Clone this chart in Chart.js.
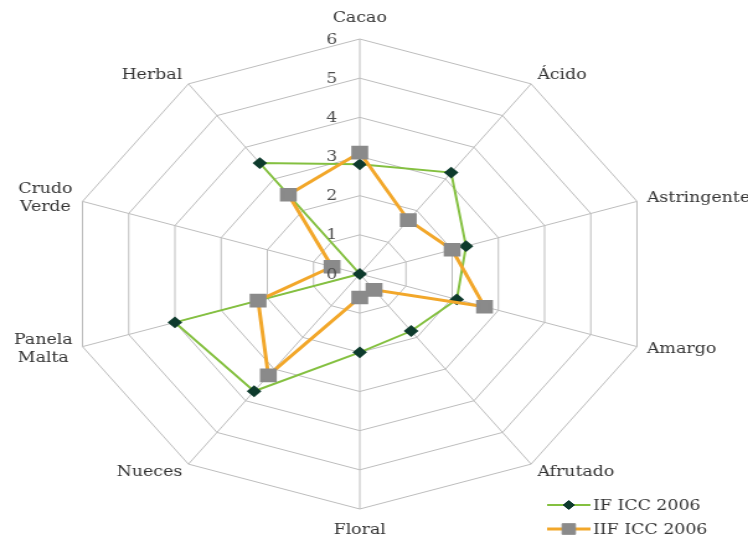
<!DOCTYPE html>
<html>
<head>
<meta charset="utf-8">
<script src="https://cdn.jsdelivr.net/npm/chart.js@4/dist/chart.umd.min.js"></script>
<style>
  html, body { margin: 0; padding: 0; background: #fff; }
  #frame { width: 748px; height: 543px; overflow: hidden; }
  /* the source picture is stretched sideways, so the canvas is too */
  #wrap { width: 603px; height: 543px; transform: scaleX(1.2405); transform-origin: 0 0; }
</style>
</head>
<body>
<div id="frame"><div id="wrap"><canvas id="radar" width="603" height="543"></canvas></div></div>
<script>
const categories = ['Cacao', 'Ácido', 'Astringente', 'Amargo', 'Afrutado', 'Floral', 'Nueces', ['Panela', 'Malta'], ['Crudo', 'Verde'], 'Herbal'];
const ifIcc2006 = [2.8, 3.2, 2.3, 2.1, 1.8, 2.0, 3.7, 4.0, 0, 3.5];
const iifIcc2006 = [3.1, 1.7, 2.0, 2.7, 0.5, 0.6, 3.2, 2.2, 0.6, 2.5];
const seriesNames = ['IF ICC 2006', 'IIF ICC 2006'];
const tickValues = [0, 1, 2, 3, 4, 5, 6];

const labelFont = '14px "DejaVu Serif"';
const textColor = '#333333';

// point labels, tick numbers and the legend are drawn here so they sit like the Excel original
const textPlugin = {
    id: 'textPlugin',
    afterDraw(chart) {
        const ctx = chart.ctx;
        const s = chart.scales.r;
        ctx.save();
        ctx.font = labelFont;
        ctx.fillStyle = textColor;
        ctx.textBaseline = 'middle';

        // axis names
        const n = chart.data.labels.length;
        chart.data.labels.forEach((label, i) => {
            const a = (i / n) * Math.PI * 2;
            const sin = Math.sin(a), cos = Math.cos(a);
            const p = s.getPointPosition(i, s.drawingArea);
            const lines = Array.isArray(label) ? label : [label];
            const lh = 18;
            let x = p.x, y;
            if (Math.abs(sin) < 0.01) {
                y = p.y - cos * 21;
            } else {
                y = p.y - cos * 10;
            }
            const widths = lines.map(l => ctx.measureText(l).width);
            const w = Math.max(...widths);
            let blockLeft;
            if (Math.abs(sin) < 0.01) blockLeft = x - w / 2;
            else if (sin > 0) blockLeft = x + (Math.abs(sin) > 0.9 ? 8 : 5);
            else blockLeft = x - (Math.abs(sin) > 0.9 ? 8 : 5) - w;
            const top = y - (lines.length - 1) * lh / 2;
            ctx.textAlign = 'center';
            lines.forEach((l, k) => {
                ctx.fillText(l, blockLeft + w / 2, top + k * lh);
            });
        });

        // tick numbers, left of the top axis
        ctx.fillStyle = '#4d4d4d';
        ctx.textAlign = 'right';
        tickValues.forEach(v => {
            const y = s.yCenter - s.getDistanceFromCenterForValue(v);
            ctx.fillText(String(v), s.xCenter - 18, y + 1);
        });

        // legend
        chart.data.datasets.forEach((ds, i) => {
            const y = 505 + i * 24;
            const x0 = 441, x1 = 476;
            ctx.strokeStyle = ds.borderColor;
            ctx.lineWidth = ds.borderWidth;
            ctx.beginPath();
            ctx.moveTo(x0, y);
            ctx.lineTo(x1, y);
            ctx.stroke();
            ctx.fillStyle = ds.pointBackgroundColor;
            ctx.strokeStyle = ds.pointBorderColor;
            ctx.lineWidth = 1;
            Chart.helpers.drawPoint(ctx, {
                pointStyle: ds.pointStyle,
                radius: ds.pointRadius,
                rotation: 0,
                borderWidth: 1
            }, (x0 + x1) / 2, y);
            ctx.fillStyle = textColor;
            ctx.textAlign = 'left';
            ctx.fillText(ds.label, x1 + 2, y + 1);
        });
        ctx.restore();
    }
};

new Chart(document.getElementById('radar').getContext('2d'), {
    type: 'radar',
    data: {
        labels: categories,
        datasets: [
            {
                label: seriesNames[0],
                data: ifIcc2006,
                borderColor: '#84c040',
                borderWidth: 2,
                fill: false,
                pointStyle: 'rectRot',
                pointRadius: 4.5,
                pointHoverRadius: 4.5,
                pointBackgroundColor: '#0e3b2d',
                pointBorderColor: '#0e3b2d',
                order: 2
            },
            {
                label: seriesNames[1],
                data: iifIcc2006,
                borderColor: '#f2a72a',
                borderWidth: 3,
                fill: false,
                pointStyle: 'rect',
                pointRadius: 7.5,
                pointHoverRadius: 7.5,
                pointBackgroundColor: '#8a8a8a',
                pointBorderColor: '#8a8a8a',
                order: 1
            }
        ]
    },
    options: {
        responsive: false,
        animation: false,
        layout: { padding: { left: 55, right: 77, top: 39, bottom: 33 } },
        plugins: {
            legend: { display: false },
            tooltip: { enabled: false }
        },
        elements: { line: { tension: 0 } },
        scales: {
            r: {
                min: 0,
                max: 6,
                ticks: { stepSize: 1, display: false },
                grid: { color: '#bdbdbd', lineWidth: 1 },
                angleLines: { color: '#bdbdbd', lineWidth: 1 },
                pointLabels: { display: false }
            }
        }
    },
    plugins: [textPlugin]
});
</script>
</body>
</html>
